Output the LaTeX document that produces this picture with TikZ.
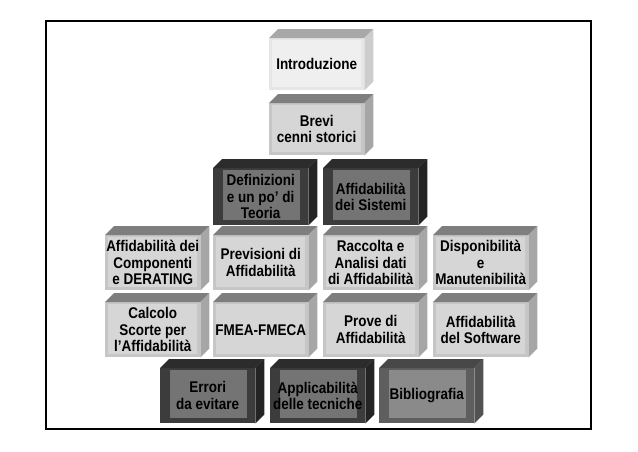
\documentclass[tikz,border=0pt]{standalone}
\usepackage{fontspec}
\setmainfont{Liberation Sans}[FakeStretch=0.87]
\usepackage{tikz}
\definecolor{introF}{HTML}{E6E6E6}
\definecolor{introI}{HTML}{EFEFEF}
\definecolor{introT}{HTML}{A8A8A8}
\definecolor{introS}{HTML}{CDCDCD}
\definecolor{chiaroF}{HTML}{C6C6C6}
\definecolor{chiaroI}{HTML}{D6D6D6}
\definecolor{chiaroT}{HTML}{7E7E7E}
\definecolor{chiaroS}{HTML}{A6A6A6}
\definecolor{scuroF}{HTML}{3C3C3C}
\definecolor{scuroI}{HTML}{747474}
\definecolor{scuroT}{HTML}{2C2C2C}
\definecolor{scuroS}{HTML}{242424}
\definecolor{biblioF}{HTML}{5E5E5E}
\definecolor{biblioI}{HTML}{8A8A8A}
\definecolor{biblioT}{HTML}{484848}
\definecolor{biblioS}{HTML}{525252}
\tikzset{front/.style={minimum width=95pt, inner sep=0pt, anchor=north west, align=center,
    font=\bfseries\fontsize{15.5}{16.5}\selectfont},
  panel/.style n args={5}{fill=#1, path picture={\fill[#2]
      ([shift={(#3pt,-2pt)}]path picture bounding box.north west) rectangle
      ([shift={(-#4pt,#5pt)}]path picture bounding box.south east);}},
  intro/.style={panel={introF}{introI}{3}{3}{3}}, intro top/.style={fill=introT}, intro side/.style={fill=introS},
  chiaro/.style={panel={chiaroF}{chiaroI}{3}{3}{3}}, chiaro top/.style={fill=chiaroT}, chiaro side/.style={fill=chiaroS},
  scuro/.style={panel={scuroF}{scuroI}{10}{8}{5}}, scuro top/.style={fill=scuroT}, scuro side/.style={fill=scuroS},
  biblio/.style={panel={biblioF}{biblioI}{10}{8}{5}}, biblio top/.style={fill=biblioT}, biblio side/.style={fill=biblioS}}
% cube: [height]{kind}{name}{position}{text}
\newcommand{\cubo}[5][55]{%
  \node[front, #2, minimum height=#1pt] (#3) at #4 {#5};
  \fill[#2 top] (#3.north west) -- ++(9,-9) -- ([shift={(9,-9)}]#3.north east) -- (#3.north east) -- cycle;
  \fill[#2 side] (#3.north east) -- ++(9,-9) -- ([shift={(9,-9)}]#3.south east) -- (#3.south east) -- cycle;}
\begin{document}
\begin{tikzpicture}[x=1pt,y=-1pt]
  \useasboundingbox (0,0) rectangle (638,451);
  \draw[line width=1.2pt] (46,21) rectangle (591,429);
  \cubo[52]{intro}{intro}{(269,38)}{Introduzione}
  \cubo[52]{chiaro}{storia}{(269,103)}{Brevi\\cenni storici}
  \cubo[57]{scuro}{teoria}{(213,168)}{Definizioni\\e un po’ di\\Teoria}
  \cubo[57]{scuro}{sistemi}{(323,168)}{Affidabilità\\dei Sistemi}
  % third row
  \cubo{chiaro}{comp}{(105,235)}{Affidabilità dei\\Componenti\\e DERATING}
  \cubo{chiaro}{prev}{(213,235)}{Previsioni di\\Affidabilità}
  \cubo{chiaro}{dati}{(323,235)}{Raccolta e\\Analisi dati\\di Affidabilità}
  \cubo{chiaro}{disp}{(433,235)}{Disponibilità\\e\\Manutenibilità}
  % fourth row
  \cubo{chiaro}{scorte}{(105,302)}{Calcolo\\Scorte per\\l’Affidabilità}
  \cubo{chiaro}{fmea}{(213,302)}{FMEA-FMECA}
  \cubo{chiaro}{prove}{(323,302)}{Prove di\\Affidabilità}
  \cubo{chiaro}{soft}{(433,302)}{Affidabilità\\del Software}
  % last row
  \cubo{scuro}{errori}{(160,368)}{Errori\\da evitare}
  \cubo{scuro}{tecn}{(270,368)}{Applicabilità\\delle tecniche}
  \cubo{biblio}{biblio}{(379,368)}{Bibliografia}
\end{tikzpicture}
\end{document}
